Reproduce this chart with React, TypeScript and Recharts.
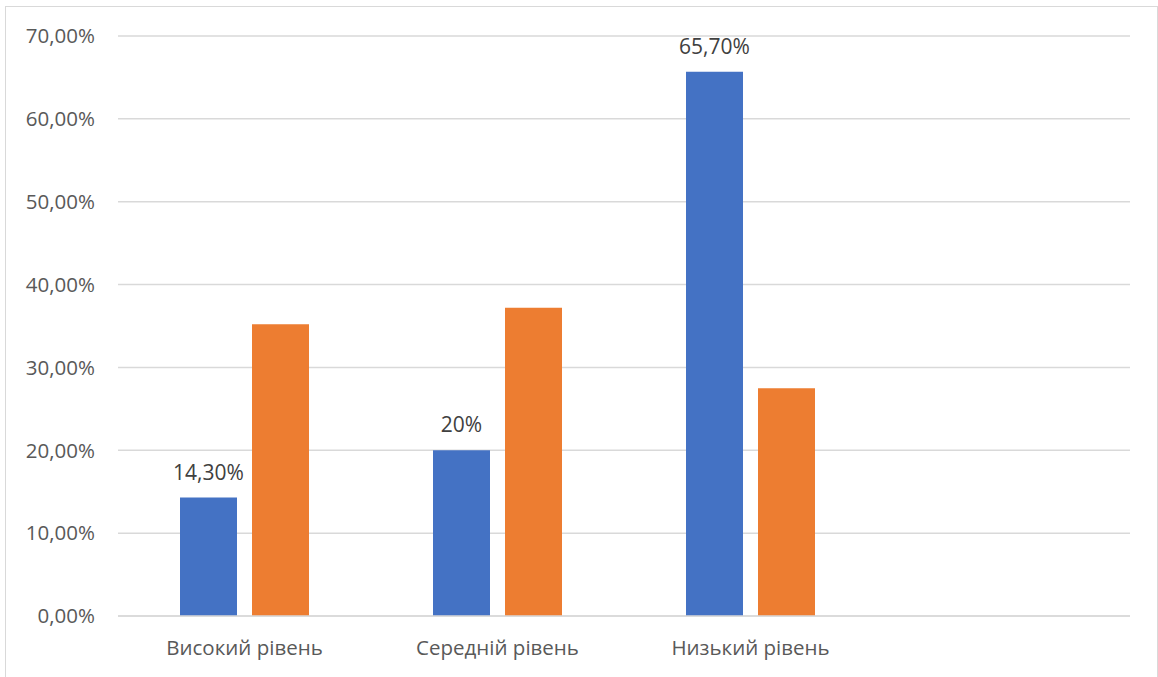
import React from "react";
import { Bar, BarChart, CartesianGrid, LabelList, XAxis, YAxis } from "recharts";

const categories = ["Високий рівень", "Середній рівень", "Низький рівень", ""];
const blueValues = [14.3, 20, 65.7, null];
const orangeValues = [35.2, 37.2, 27.5, null];
const blueLabels = ["14,30%", "20%", "65,70%", ""];
const yTicks = [0, 10, 20, 30, 40, 50, 60, 70];

const data = categories.map((name, i) => ({
  name,
  blue: blueValues[i],
  orange: orangeValues[i],
  label: blueLabels[i],
}));

const font = "'Open Sans', sans-serif";
const fmtTick = (v: number) => `${v.toFixed(2).replace(".", ",")}%`;

export default function App() {
  return (
    <div style={{ position: "fixed", left: 0, top: 0, width: 1158, height: 677, background: "#fff", fontFamily: font }}>
      <div
        style={{
          position: "absolute",
          left: 5,
          top: 6,
          width: 1151,
          height: 690,
          border: "1px solid #d9d9d9",
        }}
      />
      <div style={{ position: "absolute", left: 0, top: 0 }}>
        <BarChart
          width={1158}
          height={677}
          data={data}
          margin={{ top: 36, right: 28, bottom: 31, left: 0 }}
          barCategoryGap={62}
          barGap={15}
        >
          <CartesianGrid vertical={false} stroke="#d9d9d9" strokeWidth={1.5} />
          <XAxis
            dataKey="name"
            height={30}
            axisLine={{ stroke: "#d9d9d9", strokeWidth: 1.5 }}
            tickLine={false}
            tickSize={0}
            tickMargin={24}
            tick={{ fill: "#595959", fontSize: 20.5, fontFamily: font }}
            interval={0}
          />
          <YAxis
            width={118}
            domain={[0, 70]}
            ticks={yTicks}
            tickFormatter={fmtTick}
            axisLine={false}
            tickLine={false}
            tickSize={0}
            tickMargin={23}
            tick={{ fill: "#595959", fontSize: 20.5, fontFamily: font }}
          />
          <Bar dataKey="blue" fill="#4472c4" isAnimationActive={false}>
            <LabelList dataKey="label" position="top" offset={18} fill="#404040" fontSize={21} fontFamily={font} />
          </Bar>
          <Bar dataKey="orange" fill="#ed7d31" isAnimationActive={false} />
        </BarChart>
      </div>
    </div>
  );
}
